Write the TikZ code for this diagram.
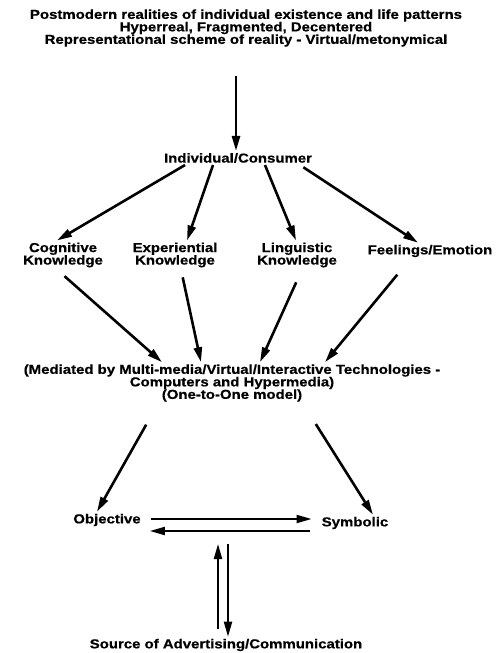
\documentclass[tikz,border=0pt]{standalone}
\usepackage{fontspec}
\setmainfont[FakeStretch=1.15, FakeBold=0.6]{Liberation Sans}
\usepackage{tikz}
\usetikzlibrary{arrows.meta, calc}

\begin{document}
\begin{tikzpicture}[x=1pt, y=-1pt,
  lbl/.style={font=\fontsize{13}{12.5}\selectfont\bfseries, align=center, inner sep=2pt},
  arr/.style={line width=2.6pt, -{Triangle[length=15pt,width=8pt]}}]
\useasboundingbox (0,0) rectangle (498,653);

% Top description
\node[lbl] (real) at (246,28) {Postmodern realities of individual existence and life patterns\\
  Hyperreal, Fragmented, Decentered\\
  Representational scheme of reality - Virtual/metonymical};

% Consumer
\node[lbl] (cons) at (238,158) {Individual/Consumer};
\draw[arr, shorten <=27pt] ([xshift=-10pt]real.south) -- ([xshift=-2pt]cons.north);

% Knowledge types
\node[lbl] (cog) at (63,255) {Cognitive\\Knowledge};
\node[lbl] (exp) at (175,255) {Experiential\\Knowledge};
\node[lbl] (ling) at (297,255) {Linguistic\\Knowledge};
\node[lbl] (feel) at (430,251) {Feelings/Emotion};
\draw[arr] ([xshift=-53pt]cons.south) -- ([xshift=-6pt]cog.north);
\draw[arr] ([xshift=-25pt]cons.south) -- ([xshift=12pt]exp.north);
\draw[arr] ([xshift=27pt]cons.south) -- ([xshift=-1pt]ling.north);
\draw[arr, shorten <=4pt] ([xshift=62pt]cons.south) -- ([xshift=-12pt]feel.north);

% Mediation
\node[lbl] (med) at (232,383) {(Mediated by Multi-media/Virtual/Interactive Technologies -\\
  Computers and Hypermedia)\\(One-to-One model)};
\draw[arr, shorten <=10pt] ([xshift=-6pt]cog.south) -- ([xshift=-70pt]med.north);
\draw[arr, shorten <=8pt] ([xshift=6pt]exp.south) -- ([xshift=-31pt]med.north);
\draw[arr, shorten <=14pt] ([xshift=5pt]ling.south) -- ([xshift=28pt]med.north);
\draw[arr, shorten <=20pt] ([xshift=-20pt]feel.south) -- ([xshift=93pt]med.north);

% Objective / Symbolic
\node[lbl] (obj) at (107,520) {Objective};
\node[lbl] (sym) at (355,523) {Symbolic};
\draw[arr, shorten <=24pt] ([xshift=-74pt]med.south) -- ([xshift=-10pt]obj.north);
\draw[arr, shorten <=24pt] ([xshift=71pt]med.south) -- ([xshift=18pt]sym.north);
\draw[arr, line width=2pt, shorten <=8pt, shorten >=8pt] ([yshift=1pt]obj.east) -- ([yshift=4pt]sym.west);
\draw[arr, line width=2pt, shorten <=10pt, shorten >=7pt] ([yshift=-8pt]sym.west) -- ([yshift=-11pt]obj.east);

% Source
\node[lbl] (src) at (226,645) {Source of Advertising/Communication};
\coordinate (link) at (223,544);
\draw[arr, line width=2pt, shorten <=8pt] ([xshift=-8pt]src.north) -- ([xshift=-5pt]link);
\draw[arr, line width=2pt] ([xshift=5pt]link) -- ([xshift=2pt]src.north);

\end{tikzpicture}
\end{document}
